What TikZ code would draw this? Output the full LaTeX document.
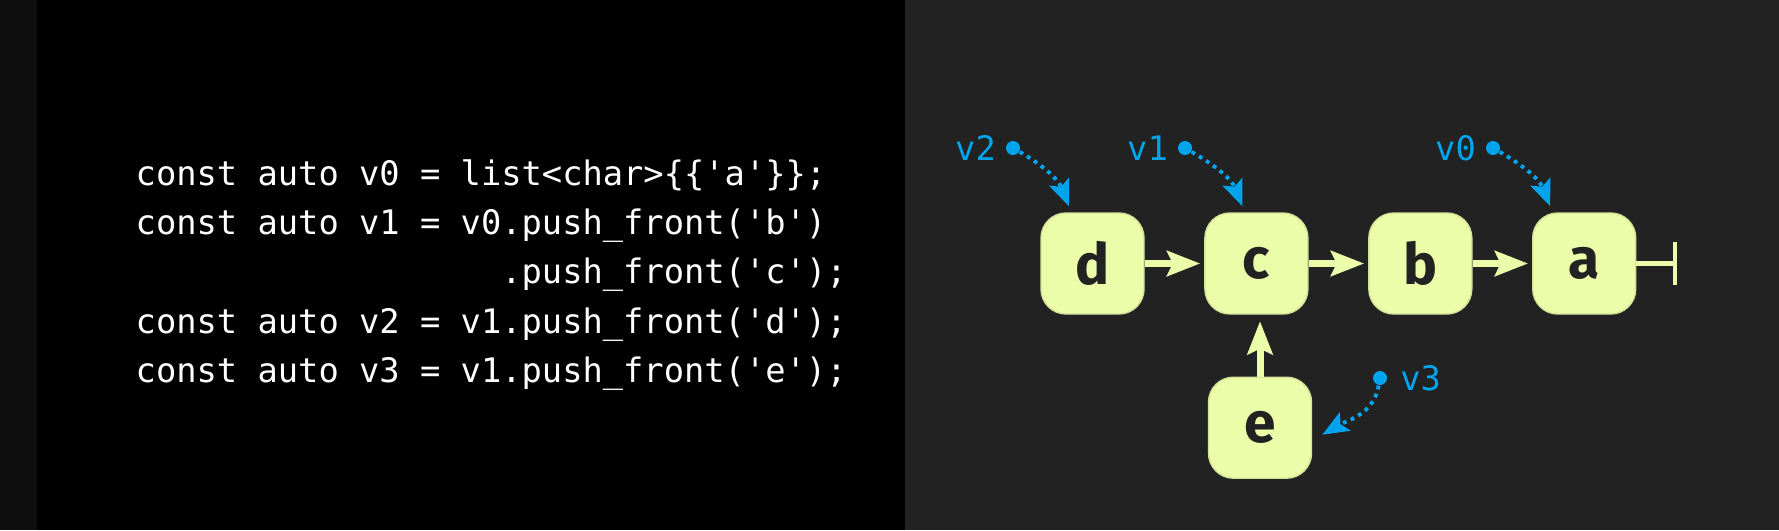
\documentclass[tikz,border=0pt]{standalone}
\usepackage{fontspec}
\setmonofont{DejaVu Sans Mono}
\newfontfamily\cellfont{Fira Sans}
\usepackage{tikz}
\usetikzlibrary{arrows.meta,positioning,calc}
\definecolor{panelleft}{HTML}{0E0E0E}
\definecolor{panelright}{HTML}{222222}
\definecolor{cellfill}{RGB}{236,253,170}
\definecolor{cellline}{RGB}{212,226,152}
\definecolor{celltext}{HTML}{222222}
\definecolor{ptrblue}{RGB}{0,164,236}

\begin{document}
\begin{tikzpicture}[
  code/.style={anchor=base west,inner sep=0pt,text=white,font=\ttfamily\fontsize{9.6}{14}\selectfont},
  cell/.style={draw=cellline,line width=0.4pt,fill=cellfill,rounded corners=0.25cm,minimum width=1.03cm,minimum height=1.01cm,inner sep=0pt,text=celltext,font=\cellfont\bfseries\fontsize{16.2}{18}\selectfont},
  link/.style={draw=cellfill,line width=2pt,-{Stealth[length=9.4pt,width=7.1pt,inset=1.6pt]}},
  ptr/.style={circle,fill=ptrblue,minimum size=0.14cm,inner sep=0pt},
  ptrname/.style={inner sep=0pt,text=ptrblue,font=\ttfamily\fontsize{9.6}{12}\selectfont},
  ptrlink/.style={draw=ptrblue,line width=1.1pt,dash pattern=on 1.1pt off 1.3pt,-{Stealth[length=7.5pt,width=6pt,inset=1.5pt]}}
]
% panels
\fill[panelleft] (0,0) rectangle (0.37,5.30);
\fill[black] (0.37,0) rectangle (9.05,5.30);
\fill[panelright] (9.05,0) rectangle (17.79,5.30);
\useasboundingbox (0,0) rectangle (17.79,5.30);

% code
\node[code] (line0) at (1.35,3.45) {const auto v0 = list<char>\{\{'a'\}\};};
\node[code] (line1) at (1.35,2.96) {const auto v1 = v0.push\_front('b')};
\node[code] (line2) at (1.35,2.465) {\phantom{const auto v1 = v0}.push\_front('c');};
\node[code] (line3) at (1.35,1.97) {const auto v2 = v1.push\_front('d');};
\node[code] (line4) at (1.35,1.48) {const auto v3 = v1.push\_front('e');};

% list cells
\node[cell] (d) at (10.925,2.665) {d};
\node[cell, right=0.595cm of d] (c) {c};
\node[cell, right=0.595cm of c] (b) {b};
\node[cell, right=0.595cm of b] (a) {a};
\node[cell] (e) at (12.60,1.023) {e};

\draw[link, shorten >=0.04cm] (d) -- (c);
\draw[link, shorten >=0.04cm] (c) -- (b);
\draw[link, shorten >=0.04cm] (b) -- (a);
\draw[link, shorten >=0.065cm] (e.north) -- (e.north |- c.south);
\draw[draw=cellfill, line width=1.4pt, -{Bar[width=12.2pt]}] (a.east) -- ++(0.41,0) coordinate (nil);

% pointers
\node[ptr] (p0) at (14.93,3.82) {};
\node[ptr] (p1) at (11.85,3.82) {};
\node[ptr] (p2) at (10.13,3.82) {};
\node[ptr] (p3) at (13.80,1.52) {};
\node[ptrname, left=2.5pt of p0] (v0) {v0};
\node[ptrname, left=2.5pt of p1] (v1) {v1};
\node[ptrname, left=2.5pt of p2] (v2) {v2};
\node[ptrname, right=3.4pt of p3] (v3) {v3};

\draw[ptrlink] (p0) to[out=-30,in=112] ([xshift=-0.34cm,yshift=0.06cm]a.north);
\draw[ptrlink] (p1) to[out=-30,in=112] ([xshift=-0.14cm,yshift=0.06cm]c.north);
\draw[ptrlink] (p2) to[out=-30,in=112] ([xshift=-0.235cm,yshift=0.06cm]d.north);
\draw[ptrlink] (p3) to[out=-100,in=30] ([xshift=0.10cm,yshift=-0.07cm]e.east);
\end{tikzpicture}
\end{document}
